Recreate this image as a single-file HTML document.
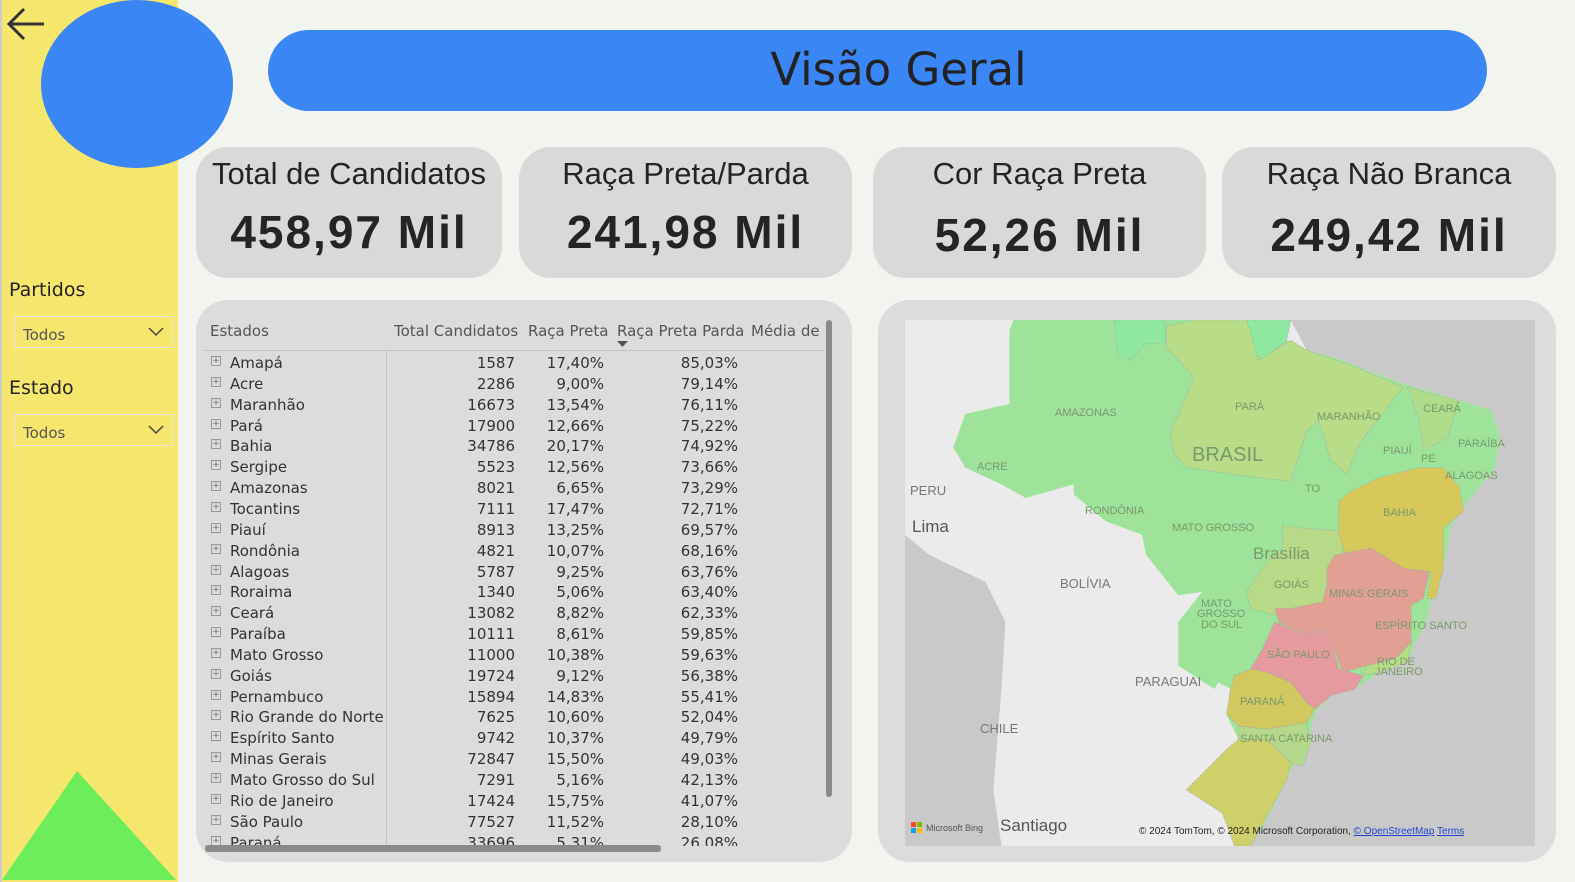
<!DOCTYPE html>
<html><head><meta charset="utf-8">
<style>
*{margin:0;padding:0;box-sizing:border-box}
html,body{width:1575px;height:882px;overflow:hidden}
body{background:#f1f4ef;font-family:"Liberation Sans","DejaVu Sans",sans-serif;position:relative;color:#252423}
.abs{position:absolute}
.card{position:absolute;top:147px;height:131px;background:#d9d9d9;border-radius:32px;text-align:center}
.card .t{position:absolute;top:9px;left:0;right:0;font-size:31px;color:#252423}
.card .v{position:absolute;top:58px;left:0;right:0;font-size:46px;font-weight:bold;letter-spacing:2px;color:#252423;font-family:"Liberation Sans",sans-serif}
.dd{position:absolute;left:14px;width:159px;height:32px;border:1px solid #e6e6e6;font-size:15px;color:#555;padding:9px 0 0 8px;font-family:"DejaVu Sans",sans-serif}
.row{position:absolute;left:0;height:21px;font-size:15px;font-family:"DejaVu Sans",sans-serif;color:#333}
.row span{position:absolute;top:0}
</style></head><body>
<div class="abs" style="left:0;top:0;width:178px;height:882px;background:#f5e76e;border-left:2px solid #ccc"></div>
<svg class="abs" style="left:4px;top:4px" width="44" height="40"><path d="M40 20 H6 M20 5 L5 20 L20 35" stroke="#333" stroke-width="3" fill="none"/></svg>
<div class="abs" style="left:41px;top:0;width:192px;height:168px;border-radius:50%;background:#3a86f4"></div>
<svg class="abs" style="left:0;top:770px" width="178" height="112"><polygon points="77,1 176,110 2,110" fill="#6ded5a"/></svg>
<div class="abs" style="left:9px;top:279px;font-size:19px;font-family:'DejaVu Sans',sans-serif">Partidos</div>
<div class="dd" style="top:316px">Todos<svg class="abs" style="right:8px;top:10px" width="16" height="10"><path d="M1 1 L8 8 L15 1" stroke="#444" stroke-width="1.5" fill="none"/></svg></div>
<div class="abs" style="left:9px;top:377px;font-size:19px;font-family:'DejaVu Sans',sans-serif">Estado</div>
<div class="dd" style="top:414px">Todos<svg class="abs" style="right:8px;top:10px" width="16" height="10"><path d="M1 1 L8 8 L15 1" stroke="#444" stroke-width="1.5" fill="none"/></svg></div>

<div class="abs" style="left:268px;top:30px;width:1219px;height:81px;border-radius:41px;background:#3a86f4;text-align:center;padding-left:42px;font-size:45px;line-height:80px;color:#222;font-family:'DejaVu Sans',sans-serif">Visão Geral</div>

<div class="card" style="left:196px;width:306px"><div class="t">Total de Candidatos</div><div class="v">458,97 Mil</div></div>
<div class="card" style="left:519px;width:333px"><div class="t">Raça Preta/Parda</div><div class="v">241,98 Mil</div></div>
<div class="card" style="left:873px;width:333px"><div class="t">Cor Raça Preta</div><div class="v" style="top:61px">52,26 Mil</div></div>
<div class="card" style="left:1222px;width:334px"><div class="t">Raça Não Branca</div><div class="v" style="top:61px">249,42 Mil</div></div>

<div class="abs" style="left:196px;top:300px;width:656px;height:562px;background:#dcdcdc;border-radius:32px;overflow:hidden">
  <div class="abs" style="left:0;top:22px;width:640px;height:30px;font-size:15px;color:#555;font-family:'DejaVu Sans',sans-serif">
    <span class="abs" style="left:14px">Estados</span>
    <span class="abs" style="left:198px">Total Candidatos</span>
    <span class="abs" style="left:332px">Raça Preta</span>
    <span class="abs" style="left:421px">Raça Preta Parda</span>
    <span class="abs" style="left:555px;width:72px;overflow:hidden;white-space:nowrap">Média de t</span>
    <svg class="abs" style="left:421px;top:19px" width="12" height="7"><polygon points="0,0 11,0 5.5,6" fill="#555"/></svg>
  </div>
  <div class="abs" style="left:8px;top:50px;width:620px;height:1px;background:#c4c4c4"></div>
  <div class="abs" style="left:190px;top:50px;width:1px;height:495px;background:#c4c4c4"></div>
  <div id="rows" class="abs" style="left:0;top:53px;width:640px;height:493px;overflow:hidden"></div>
  <div class="abs" style="left:630px;top:20px;width:6px;height:477px;background:#8a8a8a;border-radius:3px"></div>
  <div class="abs" style="left:9px;top:545px;width:456px;height:7px;background:#8a8a8a;border-radius:3px"></div>
</div>

<div class="abs" style="left:878px;top:300px;width:678px;height:562px;background:#dcdcdc;border-radius:32px"></div>
<svg class="abs" style="left:905px;top:320px" width="630" height="526" viewBox="0 0 630 526">
<g transform="scale(0.4018,0.3355)" stroke="#9aa" stroke-width="1.5" stroke-dasharray="6 4">
<rect width="1568" height="1568" fill="#c9c9c9" stroke="none"/>
<polygon stroke="none" fill="#ebebeb" points="0,0 960,0 1000,90 1090,120 1150,150 1240,190 1380,240 1460,270 1480,340 1470,440 1400,540 1360,610 1340,740 1310,840 1290,920 1270,960 1250,1020 1180,1050 1130,1090 1060,1120 1020,1170 1000,1280 960,1340 910,1470 860,1568 0,1568"/>
<polygon stroke="none" fill="#c9c9c9" points="0,640 60,700 200,780 250,900 240,1100 220,1400 240,1568 0,1568"/>
<polygon fill="#9ee39a" stroke="none" points="260,30 270,0 960,0 950,60 1000,90 1090,120 1150,150 1240,190 1380,240 1460,270 1480,340 1470,440 1400,540 1360,610 1340,740 1310,840 1290,920 1270,960 1250,1020 1180,1050 1130,1090 1060,1120 1020,1170 1000,1280 960,1340 910,1470 860,1568 820,1568 790,1470 700,1400 760,1330 830,1250 800,1175 810,1100 780,1080 770,1100 680,1030 680,900 740,810 680,820 600,700 590,640 500,600 420,520 420,490 300,530 240,490 150,440 120,380 150,280 260,250"/>
<polygon fill="#8ee8a0" points="520,0 645,0 650,70 600,70 560,120 530,100"/>
<polygon fill="#8ee8a0" points="810,0 960,0 950,60 890,120 850,80"/>
<polygon fill="#b9dc86" points="650,20 720,0 850,0 880,120 960,60 1000,90 1100,130 1200,180 1240,200 1200,260 1130,370 1100,460 1060,420 1030,300 1000,330 960,480 880,470 700,440 670,400 660,340 720,170 650,80"/>
<polygon fill="#b0dc8a" points="1250,200 1380,240 1350,350 1290,390 1280,300"/>
<polygon fill="#b8d985" points="940,610 990,620 1090,630 1090,700 1050,740 1050,790 1040,840 960,860 920,880 860,860 850,810 900,720 940,680"/>
<polygon fill="#d6c85a" points="1080,540 1110,510 1180,470 1280,440 1340,440 1380,500 1390,570 1340,620 1340,740 1320,830 1300,830 1310,750 1240,740 1160,680 1100,710 1080,640"/>
<polygon fill="#e2a092" points="1050,740 1070,700 1160,680 1240,740 1305,750 1290,830 1260,850 1260,960 1220,1010 1150,1030 1090,1050 1060,960 1040,920 1000,940 930,900 920,860 960,860 1040,840 1050,790"/>
<polygon fill="#e49a9e" points="920,900 1000,940 1040,920 1060,960 1080,1040 1140,1060 1120,1100 1060,1120 1020,1160 1000,1140 960,1080 900,1050 860,1040 890,980"/>
<polygon fill="#b9dc86" points="1150,1030 1220,1010 1260,960 1250,1020 1180,1050 1140,1060"/>
<polygon fill="#d2c860" points="820,1060 860,1040 900,1050 960,1080 1000,1140 1020,1160 1000,1200 900,1220 830,1210 800,1175 810,1100"/>
<polygon fill="#b5d88a" points="830,1210 900,1220 1000,1200 1010,1260 990,1330 960,1320 900,1250 830,1250"/>
<polygon fill="#cfd06a" points="830,1250 900,1250 960,1320 950,1370 900,1480 860,1568 820,1568 790,1470 700,1400 750,1340 800,1280"/>
</g>
<g font-family="Liberation Sans,sans-serif" fill="#7a9a6a" font-size="11" stroke="none">
<text x="150" y="96">AMAZONAS</text><text x="330" y="90">PARÁ</text><text x="412" y="100">MARANHÃO</text>
<text x="518" y="92">CEARÁ</text><text x="553" y="127">PARAÍBA</text><text x="478" y="134">PIAUÍ</text><text x="516" y="142">PE</text>
<text x="540" y="159">ALAGOAS</text><text x="287" y="141" font-size="20">BRASIL</text><text x="72" y="150">ACRE</text>
<text x="400" y="172">TO</text><text x="180" y="194">RONDÔNIA</text><text x="267" y="211">MATO GROSSO</text>
<text x="478" y="196">BAHIA</text><text x="348" y="239" font-size="17">Brasília</text><text x="369" y="268">GOIÁS</text>
<text x="424" y="277">MINAS GERAIS</text><text x="296" y="287">MATO</text><text x="292" y="297">GROSSO</text><text x="296" y="308">DO SUL</text>
<text x="470" y="309">ESPÍRITO SANTO</text><text x="362" y="338">SÃO PAULO</text><text x="472" y="345">RIO DE</text><text x="470" y="355">JANEIRO</text>
<text x="335" y="385">PARANÁ</text><text x="335" y="422">SANTA CATARINA</text>
<g fill="#777" font-size="13"><text x="5" y="175">PERU</text><text x="155" y="268">BOLÍVIA</text><text x="230" y="366">PARAGUAI</text><text x="75" y="413">CHILE</text></g>
<text x="7" y="212" fill="#555" font-size="17">Lima</text><text x="95" y="511" fill="#555" font-size="17">Santiago</text>
<rect x="6" y="502" width="5" height="5" fill="#f25022"/><rect x="12" y="502" width="5" height="5" fill="#7fba00"/><rect x="6" y="508" width="5" height="5" fill="#00a4ef"/><rect x="12" y="508" width="5" height="5" fill="#ffb900"/>
<text x="21" y="511" fill="#555" font-size="9">Microsoft Bing</text>
<text x="234" y="514" fill="#222" font-size="10">© 2024 TomTom, © 2024 Microsoft Corporation, <tspan fill="#2244cc" text-decoration="underline">© OpenStreetMap</tspan>  <tspan fill="#2244cc" text-decoration="underline">Terms</tspan></text>
</g>
</svg>

<script>
const estados=["Amapá","Acre","Maranhão","Pará","Bahia","Sergipe","Amazonas","Tocantins","Piauí","Rondônia","Alagoas","Roraima","Ceará","Paraíba","Mato Grosso","Goiás","Pernambuco","Rio Grande do Norte","Espírito Santo","Minas Gerais","Mato Grosso do Sul","Rio de Janeiro","São Paulo","Paraná"];
const totalCandidatos=[1587,2286,16673,17900,34786,5523,8021,7111,8913,4821,5787,1340,13082,10111,11000,19724,15894,7625,9742,72847,7291,17424,77527,33696];
const racaPreta=["17,40%","9,00%","13,54%","12,66%","20,17%","12,56%","6,65%","17,47%","13,25%","10,07%","9,25%","5,06%","8,82%","8,61%","10,38%","9,12%","14,83%","10,60%","10,37%","15,50%","5,16%","15,75%","11,52%","5,31%"];
const racaPretaParda=["85,03%","79,14%","76,11%","75,22%","74,92%","73,66%","73,29%","72,71%","69,57%","68,16%","63,76%","63,40%","62,33%","59,85%","59,63%","56,38%","55,41%","52,04%","49,79%","49,03%","42,13%","41,07%","28,10%","26,08%"];
const rows=document.getElementById('rows');
estados.forEach((e,i)=>{
  const r=document.createElement('div');
  r.className='row';
  
  
  r.style.top=(i*20.85+1)+'px';
  r.style.width='640px';
  r.innerHTML='<span style="left:15px;top:2px;width:10px;height:10px;border:1px solid #999;font-size:9px;line-height:8px;text-align:center;color:#777">+</span>'+
   '<span style="left:34px">'+e+'</span>'+
   '<span style="right:321px">'+totalCandidatos[i]+'</span>'+
   '<span style="right:232px">'+racaPreta[i]+'</span>'+
   '<span style="right:98px">'+racaPretaParda[i]+'</span>';
  rows.appendChild(r);
});
</script>
</body></html>
